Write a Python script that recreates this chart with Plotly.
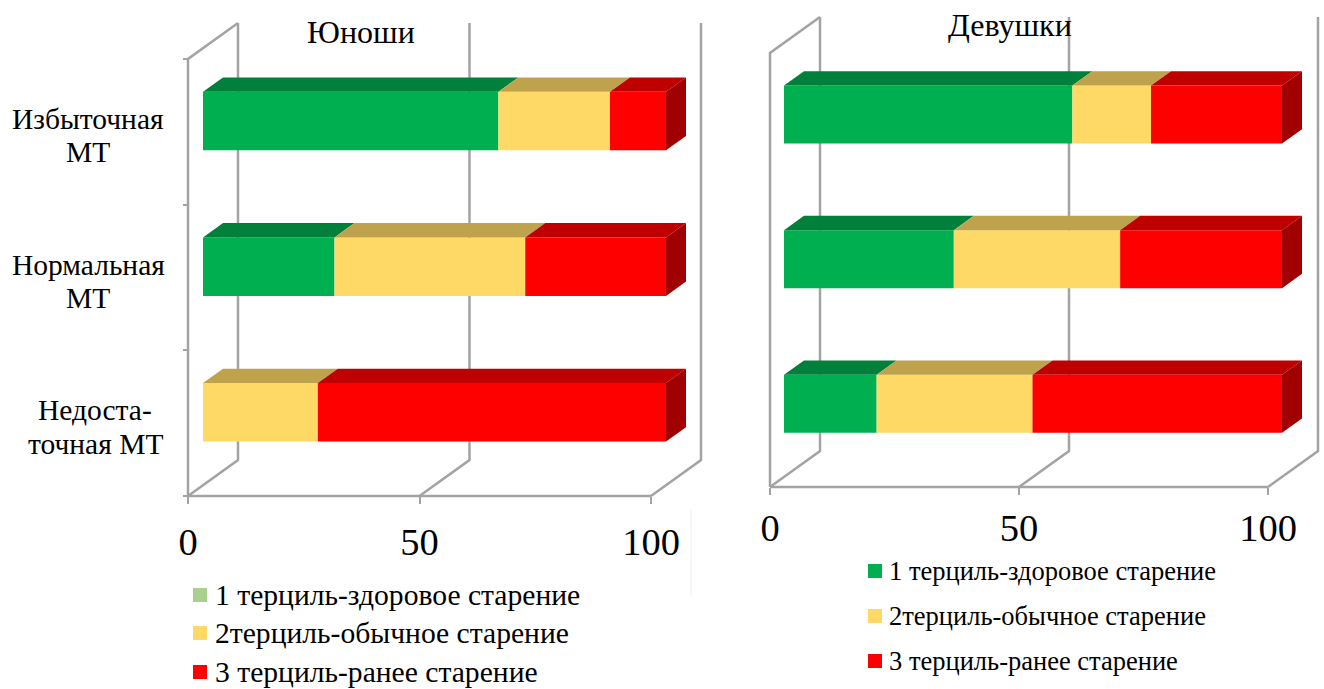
import numpy as np
import plotly.graph_objects as go

FONT = "Liberation Serif"
W, H = 1324, 689

categories = ["Недоста-<br>точная МТ", "Нормальная<br>МТ", "Избыточная<br>МТ"]
series_names = ["1 терциль-здоровое старение", "2терциль-обычное старение", "3 терциль-ранее старение"]
boys_1 = [0.0, 28.4, 63.8]
boys_2 = [24.8, 41.2, 24.1]
boys_3 = [75.2, 30.4, 12.1]
girls_1 = [18.6, 34.1, 57.9]
girls_2 = [31.3, 33.4, 15.8]
girls_3 = [50.1, 32.5, 26.3]
x_ticks = [0, 50, 100]
title_boys = "Юноши"
title_girls = "Девушки"

front = ["#00B050", "#FFD966", "#FF0000"]
top = ["#00803A", "#BFA24C", "#BF0000"]
side = "#A00000"
grid = "#A3A3A3"

fig = go.Figure()


def px(x):
    return x / W


def py(y):
    return 1 - y / H


def panel(series, x0, x100, y_floor, y_top, idx, depth_px=(50, 36), ticklen_y=5, standoff=3, bar_h=58.5, bar_dx=15):
    s = "" if idx == 0 else str(idx * 2 + 1)
    s_over = str(idx * 2 + 2)
    ux = (x100 - x0) / 100
    uy = (y_floor - y_top) / 3
    dx, dy = depth_px[0] / ux, depth_px[1] / uy
    xa, ya = "x" + s, "y" + s
    xo, yo = "x" + s_over, "y" + s_over
    line = dict(color=grid, width=2.5)

    def wall(xs, ys):
        fig.add_trace(go.Scatter(x=xs, y=ys, mode="lines", xaxis=xa, yaxis=ya, line=line,
                                 showlegend=False, hoverinfo="skip"))

    for t in x_ticks:
        wall([t, t + dx, t + dx], [0, dy, 3 + dy])
    wall([0, 0, dx], [0, 3, 3 + dy])
    wall([0, 100], [0, 0])

    f0, f1 = 0.3, 0.7
    ox, oy = bar_dx / ux, dy * f0
    tx, ty = dx * (f1 - f0), dy * (f1 - f0)
    bw = bar_h / uy
    centers = np.arange(3) + 0.5 + oy
    vals = np.array(series, dtype=float)
    left = np.vstack([np.zeros(3), np.cumsum(vals, axis=0)[:-1]]) + ox
    for k in range(3):
        fig.add_trace(go.Bar(y=centers, x=vals[k], base=left[k], orientation="h", width=bw, xaxis=xo, yaxis=yo,
                             marker=dict(color=front[k], line=dict(width=0)),
                             showlegend=False, name=series_names[k]))
        for r in range(3):
            if vals[k][r] <= 0:
                continue
            l, v, c = left[k][r], vals[k][r], centers[r]
            fig.add_trace(go.Scatter(
                x=[l, l + v, l + v + tx, l + tx, l],
                y=[c + bw / 2, c + bw / 2, c + bw / 2 + ty, c + bw / 2 + ty, c + bw / 2],
                mode="lines", fill="toself", fillcolor=top[k], line=dict(width=0), xaxis=xo, yaxis=yo,
                showlegend=False, hoverinfo="skip"))
    right = left[-1] + vals[-1]
    for r in range(3):
        rr, c = right[r], centers[r]
        fig.add_trace(go.Scatter(
            x=[rr, rr + tx, rr + tx, rr, rr],
            y=[c - bw / 2, c - bw / 2 + ty, c + bw / 2 + ty, c + bw / 2, c - bw / 2],
            mode="lines", fill="toself", fillcolor=side, line=dict(width=0), xaxis=xo, yaxis=yo,
            showlegend=False, hoverinfo="skip"))

    # plot area is larger than the chart box so the 3D walls are not clipped
    pl, pr, pb, pt = 20, 55, 10, 45
    dom_x = [px(x0 - pl), px(x100 + pr)]
    dom_y = [py(y_floor + pb), py(y_top - pt)]
    rx = [-pl / ux, 100 + pr / ux]
    ry = [-pb / uy, 3 + pt / uy]
    ax_x = dict(domain=dom_x, range=rx, tickvals=x_ticks, ticks="outside", ticklen=7, tickcolor=grid, tickwidth=1.5,
                showline=False, showgrid=False, zeroline=False, anchor="free", position=py(y_floor), automargin=False,
                tickfont=dict(family=FONT, size=38.5, color="#000000"), ticklabelstandoff=standoff)
    ax_y = dict(domain=dom_y, range=ry, tickvals=[0, 1, 2, 3], ticktext=["", "", "", ""], ticks="outside" if ticklen_y else "",
                ticklen=ticklen_y, tickcolor=grid, tickwidth=1.5, showline=False, automargin=False,
                showgrid=False, zeroline=False, anchor="free", position=px(x0))
    fig.layout["xaxis" + s] = ax_x
    fig.layout["yaxis" + s] = ax_y
    fig.layout["xaxis" + s_over] = dict(domain=dom_x, range=rx, overlaying=xa, visible=False, anchor=yo, automargin=False)
    fig.layout["yaxis" + s_over] = dict(domain=dom_y, range=ry, overlaying=ya, visible=False, anchor=xo, automargin=False)


panel([boys_1, boys_2, boys_3], 188, 651, 496, 59, 0, standoff=5)
panel([girls_1, girls_2, girls_3], 770, 1268, 487, 53, 1, ticklen_y=0, standoff=0, bar_h=58, bar_dx=14)

ann = []


def text(t, x, y, size, xanchor="center"):
    ann.append(dict(text=t, x=px(x), y=py(y), xref="paper", yref="paper", xanchor=xanchor, yanchor="middle",
                    showarrow=False, font=dict(family=FONT, size=size, color="#000000"), align="center"))


text(title_boys, 361, 32, 32)
text(title_girls, 1010, 25, 32)
for c, cy, cx in zip(categories, [427, 281, 135], [95, 88, 88]):
    a, b = c.split("<br>")
    text(a, cx, cy - 16.5, 29.5)
    text(b, cx, cy + 16.5, 29.5)

shapes = []
legend_l = [(595, "#A9D18E"), (633, front[1]), (672, front[2])]
for (y, col), name in zip(legend_l, series_names):
    shapes.append(dict(type="rect", xref="paper", yref="paper", x0=px(193), x1=px(207), y0=py(y + 7), y1=py(y - 7),
                       fillcolor=col, line=dict(width=0)))
    text(name, 213, y, 29.6, "left")
legend_r = [(571, front[0]), (616, front[1]), (661, front[2])]
for (y, col), name in zip(legend_r, series_names):
    shapes.append(dict(type="rect", xref="paper", yref="paper", x0=px(868), x1=px(882), y0=py(y + 7), y1=py(y - 7),
                       fillcolor=col, line=dict(width=0)))
    text(name, 887, y, 26.5, "left")
shapes.append(dict(type="line", xref="paper", yref="paper", x0=px(691), x1=px(691), y0=py(510), y1=py(596),
                   line=dict(color="#EFEFEF", width=1)))

fig.update_layout(width=W, height=H, margin=dict(l=0, r=0, t=0, b=0), paper_bgcolor="#FFFFFF", plot_bgcolor="rgba(0,0,0,0)",
                  barmode="overlay", showlegend=False, annotations=ann, shapes=shapes)
fig.write_html("out.html", post_script="document.body.style.margin='0';", config={"displayModeBar": False})
